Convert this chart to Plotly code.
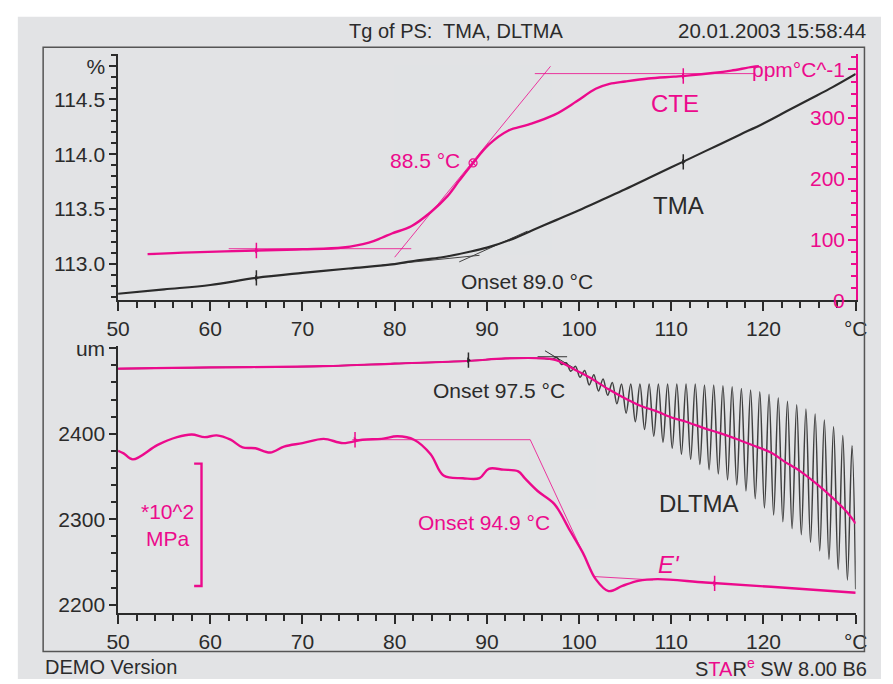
import plotly.graph_objects as go

# ---------------- data ----------------
# Top panel: TMA curve (% , left axis)
tma_T = [50, 55, 60, 65, 70, 75, 80, 82.5, 85, 88, 90, 92.5, 95, 97.5, 100, 102.5,
         105, 107.5, 110, 112.5, 115, 117.5, 120, 122.5, 125, 127.5, 130]
tma_pct = [112.73, 112.77, 112.81, 112.875, 112.92, 112.96, 113.00, 113.035, 113.06,
           113.11, 113.15, 113.22, 113.31, 113.40, 113.49, 113.585, 113.68, 113.78,
           113.88, 113.98, 114.08, 114.18, 114.28, 114.39, 114.50, 114.61, 114.73]
# TMA onset tangents
tma_base_T = [78.6, 89.2]
tma_base_pct = [112.99, 113.08]
tma_steep_T = [87.0, 94.4]
tma_steep_pct = [113.02, 113.30]

# CTE curve (ppm/°C, right axis)
cte_T = [53.2, 58, 65, 70, 74.4, 77.2, 78.6, 79.7, 81.8, 83.9, 85.7, 87, 88.4, 90.2,
         92.3, 94.5, 97.3, 99.7, 101.8, 103.3, 105, 107.5, 110.3, 112, 114.5, 116.5,
         118.8, 119.5]
cte_ppm = [76, 79, 82, 84, 87, 95, 103, 110, 122, 145, 171, 197, 224, 256, 279, 289,
           305, 327, 348, 356, 360, 365, 368, 370, 374, 378, 384, 385]
cte_low_T = [62, 81.8]
cte_low_ppm = [85, 85]
cte_steep_T = [80.0, 96.9]
cte_steep_ppm = [71, 385]
cte_high_T = [95.2, 119.0]
cte_high_ppm = [373, 373]
cte_mid_T = [88.5]
cte_mid_ppm = [226]

# Bottom panel: DLTMA mean (um)
dl_T = [50, 60, 72.3, 80, 87.8, 92, 96.2, 97.5, 98.5, 99.7, 101.1, 103.2, 104.7,
        106.8, 108.2, 110.3, 111.6, 113.7, 115.2, 117.3, 118.7, 120.8, 122.2, 124,
        125.8, 127.5, 129, 130]
dl_mean = [2476, 2477.5, 2479, 2482, 2485, 2488, 2488, 2486, 2481, 2474, 2466, 2452,
           2443, 2432, 2427, 2418, 2414, 2406, 2401, 2393, 2387, 2378, 2368, 2356,
           2341, 2325, 2309, 2295]
# DLTMA raw signal: smooth part, then successive maxima / minima of the oscillation
dl_raw_start_T = [50, 60, 72.3, 80, 87.8, 92, 96.2, 97.0]
dl_raw_start = [2476, 2477.5, 2479, 2482, 2485, 2488, 2488, 2487]
dl_peak_T = [97.6, 98.6, 99.6, 100.6, 101.6, 102.6, 103.6, 104.6, 105.6, 106.6, 107.6,
             108.6, 109.6, 110.6, 111.6, 112.6, 113.6, 114.6, 115.6, 116.6, 117.6,
             118.6, 119.6, 120.6, 121.6, 122.6, 123.6, 124.6, 125.6, 126.6, 127.6,
             128.6, 129.6]
dl_peak = [2489, 2483, 2479, 2474, 2469, 2464, 2460, 2458, 2458, 2458, 2458, 2458,
           2458, 2458, 2458, 2458, 2457, 2457, 2456, 2455, 2453, 2451, 2449, 2446,
           2442, 2438, 2434, 2429, 2423, 2416, 2408, 2398, 2386]
dl_trough_T = [98.1, 99.1, 100.1, 101.1, 102.1, 103.1, 104.1, 105.1, 106.1, 107.1,
               108.1, 109.1, 110.1, 111.1, 112.1, 113.1, 114.1, 115.1, 116.1, 117.1,
               118.1, 119.1, 120.1, 121.1, 122.1, 123.1, 124.1, 125.1, 126.1, 127.1,
               128.1, 129.1, 130.0]
dl_trough = [2481, 2473, 2466, 2457, 2450, 2445, 2435, 2424, 2414, 2405, 2397, 2390,
             2383, 2376, 2370, 2364, 2358, 2353, 2346, 2340, 2333, 2324, 2313, 2305,
             2297, 2289, 2282, 2273, 2263, 2253, 2241, 2229, 2218]
dl_on_h_T = [95.5, 98.7]
dl_on_h = [2490, 2490]
dl_on_s_T = [96.3, 99.4]
dl_on_s = [2497, 2477]

# E' curve (drawn against its own hidden scale, same span as um axis)
e_T = [50, 50.6, 51.6, 54.3, 56.4, 58, 59.4, 60.7, 62.2, 63.5, 64.9, 66.5, 68, 70,
       72.3, 74.4, 76.5, 78.6, 80.3, 82.1, 83.9, 85.3, 87.4, 89.2, 90.2, 91.8, 93.4,
       94.1, 95.5, 97.3, 99, 100.4, 101.8, 103.2, 104.7, 106.4, 108.5, 113.7, 120.8, 130]
e_val = [2380, 2377, 2370, 2387, 2396, 2399, 2396, 2398, 2393, 2384, 2383, 2378, 2385,
         2389, 2394, 2389, 2393, 2394, 2397, 2393, 2376, 2351, 2348, 2348, 2359, 2358,
         2356, 2348, 2333, 2318, 2287, 2261, 2230, 2216, 2222, 2228, 2230, 2226, 2221,
         2214]
e_h_T = [75.4, 94.7]
e_h = [2393, 2393]
e_s_T = [94.7, 101.6]
e_s = [2393, 2233]
e_b_T = [101.6, 108.0]
e_b = [2233, 2229]

# evaluation flags
flag_top_pct_T = [65, 111.3]
flag_top_pct = [112.875, 113.93]
flag_top_ppm_T = [65, 111.3]
flag_top_ppm = [82, 369]
flag_dl_T = [88]
flag_dl = [2486]
flag_e_T = [75.7, 114.7]
flag_e = [2393, 2225]

# tick labels
x_ticks = [50, 60, 70, 80, 90, 100, 110, 120, 130]
x_labels = ["50", "60", "70", "80", "90", "100", "110", "120", "°C"]
pct_ticks = [113.0, 113.5, 114.0, 114.5, 114.8]
pct_labels = ["113.0", "113.5", "114.0", "114.5", "%"]
ppm_ticks = [0, 100, 200, 300, 380]
ppm_labels = ["0", "100", "200", "300", "ppm°C^-1"]
um_ticks = [2200, 2300, 2400, 2500]
um_labels = ["2200", "2300", "2400", "um"]

# ---------------- styling ----------------
W, H = 893, 684
PINK = "#ec0a8c"
DARK = "#2b2b2b"
GREY_BG = "#e2e3e5"
FONT = "Liberation Sans, Arial, sans-serif"


def px(x):
    return x / W


def py(y):
    return 1 - y / H


fig = go.Figure()


def flags(xs, ys, color, xa, ya):
    fig.add_trace(go.Scatter(x=xs, y=ys, mode="markers", xaxis=xa, yaxis=ya,
                             marker=dict(symbol="line-ns-open", size=11, color=color,
                                         line=dict(color=color, width=1.5))))
    fig.add_trace(go.Scatter(x=xs, y=ys, mode="markers", xaxis=xa, yaxis=ya,
                             marker=dict(symbol="triangle-right", size=5, color=color,
                                         line=dict(width=0))))


# top panel
fig.add_trace(go.Scatter(x=tma_base_T, y=tma_base_pct, mode="lines",
                         line=dict(color="#444", width=1), xaxis="x", yaxis="y"))
fig.add_trace(go.Scatter(x=tma_steep_T, y=tma_steep_pct, mode="lines",
                         line=dict(color="#444", width=1), xaxis="x", yaxis="y"))
fig.add_trace(go.Scatter(x=tma_T, y=tma_pct, mode="lines", line_shape="spline",
                         line=dict(color=DARK, width=2.2), xaxis="x", yaxis="y"))
flags(flag_top_pct_T, flag_top_pct, DARK, "x", "y")
for tx, ty in ((cte_low_T, cte_low_ppm), (cte_steep_T, cte_steep_ppm), (cte_high_T, cte_high_ppm)):
    fig.add_trace(go.Scatter(x=tx, y=ty, mode="lines", line=dict(color=PINK, width=1),
                             opacity=0.8, xaxis="x", yaxis="y2"))
fig.add_trace(go.Scatter(x=cte_T, y=cte_ppm, mode="lines", line_shape="spline",
                         line=dict(color=PINK, width=2.4), xaxis="x", yaxis="y2"))
fig.add_trace(go.Scatter(x=cte_mid_T, y=cte_mid_ppm, mode="markers",
                         marker=dict(symbol="circle-x-open", size=8, color=PINK,
                                     line=dict(color=PINK, width=1.2)),
                         xaxis="x", yaxis="y2"))
flags(flag_top_ppm_T, flag_top_ppm, PINK, "x", "y2")

# bottom panel
raw_T = list(dl_raw_start_T)
raw_v = list(dl_raw_start)
for i in range(len(dl_peak_T)):
    raw_T.append(dl_peak_T[i]); raw_v.append(dl_peak[i])
    if i < len(dl_trough_T):
        raw_T.append(dl_trough_T[i]); raw_v.append(dl_trough[i])
fig.add_trace(go.Scatter(x=raw_T, y=raw_v, mode="lines", line_shape="spline",
                         line=dict(color="#404040", width=1.5), xaxis="x2", yaxis="y3"))
fig.add_trace(go.Scatter(x=dl_on_h_T, y=dl_on_h, mode="lines", line=dict(color="#333", width=1),
                         xaxis="x2", yaxis="y3"))
fig.add_trace(go.Scatter(x=dl_on_s_T, y=dl_on_s, mode="lines", line=dict(color="#333", width=1),
                         xaxis="x2", yaxis="y3"))
fig.add_trace(go.Scatter(x=dl_T, y=dl_mean, mode="lines", line_shape="spline",
                         line=dict(color=PINK, width=2.2), xaxis="x2", yaxis="y3"))
flags(flag_dl_T, flag_dl, DARK, "x2", "y3")
for tx, ty in ((e_h_T, e_h), (e_s_T, e_s), (e_b_T, e_b)):
    fig.add_trace(go.Scatter(x=tx, y=ty, mode="lines", line=dict(color=PINK, width=1),
                             opacity=0.8, xaxis="x2", yaxis="y4"))
fig.add_trace(go.Scatter(x=e_T, y=e_val, mode="lines", line_shape="spline",
                         line=dict(color=PINK, width=2.4), xaxis="x2", yaxis="y4"))
flags(flag_e_T, flag_e, PINK, "x2", "y4")

XD = [px(109), px(867)]
TOP_D = [py(296), py(45)]
BOT_D = [py(615), py(343)]
tickfont = dict(family=FONT, size=21, color=DARK)

xcommon = dict(range=[50, 130], tickmode="array", tickvals=x_ticks, ticktext=x_labels,
               ticks="outside", ticklen=9, tickwidth=1.5, tickcolor=DARK,
               showline=True, linecolor=DARK, linewidth=1.6, showgrid=False, zeroline=False,
               tickfont=tickfont, minor=dict(tickmode="linear", tick0=50, dtick=2, ticks="outside",
                                             ticklen=6, tickwidth=1.5, tickcolor=DARK))

fig.update_layout(
    width=W, height=H, margin=dict(l=0, r=0, t=0, b=0),
    paper_bgcolor="white", plot_bgcolor=GREY_BG, showlegend=False,
    font=dict(family=FONT, size=20, color=DARK),
    xaxis=dict(domain=XD, anchor="y", **xcommon),
    xaxis2=dict(domain=XD, anchor="y3", **xcommon),
    yaxis=dict(domain=TOP_D, anchor="x", range=[112.67, 114.91], tickmode="array",
               tickvals=pct_ticks, ticktext=pct_labels, ticks="outside", ticklen=7, tickwidth=1.5,
               tickcolor=DARK, showline=True, linecolor=DARK, linewidth=1.6, showgrid=False,
               zeroline=False, tickfont=tickfont,
               minor=dict(tickmode="linear", tick0=112.7, dtick=0.1, ticks="outside", ticklen=5,
                          tickwidth=1.5, tickcolor=DARK)),
    yaxis2=dict(overlaying="y", anchor="x", side="right", range=[0, 405], tickmode="array",
                tickvals=ppm_ticks, ticks="inside", ticklen=8, tickwidth=1.5,
                tickcolor=PINK, showticklabels=False, showline=True, linecolor=PINK,
                linewidth=1.6, showgrid=False, zeroline=False,
                minor=dict(tickmode="linear", tick0=0, dtick=20, ticks="inside", ticklen=5,
                           tickwidth=1.5, tickcolor=PINK)),
    yaxis3=dict(domain=BOT_D, anchor="x2", range=[2190, 2502], tickmode="array",
                tickvals=um_ticks, ticktext=um_labels, ticks="outside", ticklen=7, tickwidth=1.5,
                tickcolor=DARK, showline=True, linecolor=DARK, linewidth=1.6, showgrid=False,
                zeroline=False, tickfont=tickfont,
                minor=dict(tickmode="linear", tick0=2200, dtick=20, ticks="outside", ticklen=5,
                           tickwidth=1.5, tickcolor=DARK)),
    yaxis4=dict(overlaying="y3", anchor="x2", range=[2190, 2502], visible=False),
)

# right-axis tick labels, drawn inside the plot next to the pink axis
for v, t in zip(ppm_ticks, ppm_labels):
    fig.add_annotation(text=t, x=px(858), y=v, xref="paper", yref="y2", xanchor="right",
                       yanchor="middle", showarrow=False,
                       font=dict(family=FONT, size=21, color=PINK))

# background, frame and scale bar
fig.add_shape(type="rect", xref="paper", yref="paper", x0=px(6), x1=1, y0=py(682), y1=py(7),
              fillcolor=GREY_BG, line=dict(width=0), layer="below")
fig.add_shape(type="rect", xref="paper", yref="paper", x0=px(32), x1=px(876), y0=py(654), y1=py(38),
              line=dict(color="#555", width=1.5), fillcolor="rgba(0,0,0,0)", layer="above")
fig.add_shape(type="path", xref="x2", yref="y4",
              path="M 58.25 2365 L 59.05 2365 L 59.05 2222 L 58.25 2222",
              line=dict(color=PINK, width=2.4))


def ann(text, x, y, xref, yref, color=DARK, size=21, xanchor="center", italic=False):
    fig.add_annotation(text=("<i>%s</i>" % text) if italic else text, x=x, y=y, xref=xref, yref=yref,
                       showarrow=False, xanchor=xanchor, yanchor="middle",
                       font=dict(family=FONT, size=size, color=color))


ann("Onset 89.0 °C", 94.33, 112.84, "x", "y")
ann("88.5 °C", 83.25, 230.6, "x", "y2", color=PINK)
ann("CTE", 110.37, 324, "x", "y2", color=PINK, size=24)
ann("TMA", 110.8, 113.53, "x", "y", size=24)
ann("DLTMA", 113.0, 2318, "x2", "y3", size=24)
ann("Onset 97.5 °C", 91.27, 2450.6, "x2", "y3")
ann("Onset 94.9 °C", 89.68, 2296.6, "x2", "y3", color=PINK)
ann("E'", 109.74, 2247, "x2", "y3", color=PINK, size=24, italic=True)
ann("*10^2<br>MPa", 55.4, 2293, "x2", "y3", color=PINK, size=21)

ann("Tg of PS:&nbsp; TMA, DLTMA", px(456), py(21), "paper", "paper", size=20)
ann("20.01.2003 15:58:44", px(880), py(21), "paper", "paper", size=20.5, xanchor="right")
ann("DEMO Version", px(32), py(670), "paper", "paper", size=20, xanchor="left")
ann("S<span style='color:%s'>TA</span>R<sup><span style='color:%s'>e</span></sup> SW 8.00 B6" % (PINK, PINK),
    px(881), py(670), "paper", "paper", size=20, xanchor="right")

fig.write_html(
    "out.html",
    config={"displayModeBar": False},
    post_script="document.body.style.margin='0';",
)
